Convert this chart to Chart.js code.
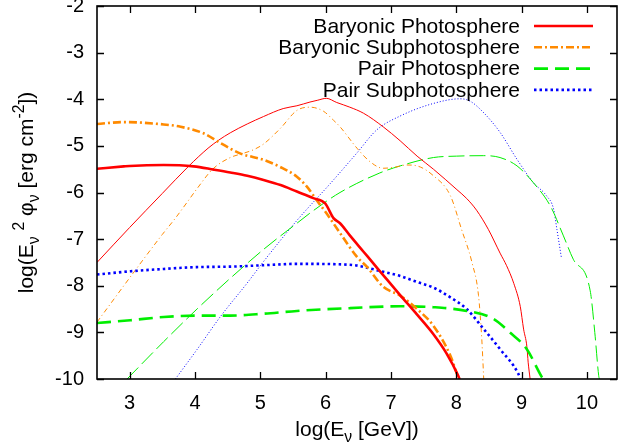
<!DOCTYPE html>
<html>
<head>
<meta charset="utf-8">
<script src="https://cdn.jsdelivr.net/npm/chart.js@4.4.0/dist/chart.umd.min.js"></script>
<style>
  html, body { margin: 0; padding: 0; background: #fff; }
  #wrap { width: 618px; height: 445px; position: relative; }
</style>
</head>
<body>
<div id="wrap"><canvas id="c"></canvas></div>
<script>
// tick values
const xTicks = [3, 4, 5, 6, 7, 8, 9, 10];
const yTicks = [-10, -9, -8, -7, -6, -5, -4, -3, -2];

// legend labels
const seriesNames = ['Baryonic Photosphere', 'Baryonic Subphotosphere', 'Pair Photosphere', 'Pair Subphotosphere'];

// Baryonic photosphere (thick / thin)
const bpThickX = [2.5, 2.91, 3.0, 3.52, 3.98, 4.29, 4.54, 4.8, 5.05, 5.31, 5.56, 5.81, 5.99, 6.12, 6.22, 6.37, 6.58, 6.73, 6.91, 7.14, 7.40, 7.65, 7.85, 8.03, 8.05];
const bpThickY = [-5.49, -5.44, -5.43, -5.41, -5.44, -5.51, -5.57, -5.64, -5.73, -5.84, -5.98, -6.12, -6.23, -6.55, -6.66, -6.92, -7.27, -7.52, -7.82, -8.2, -8.62, -9.04, -9.45, -9.93, -10.0];
const bpThinX = [2.5, 3.0, 3.5, 3.9, 4.2, 4.36, 4.54, 4.8, 5.05, 5.35, 5.56, 5.76, 5.88, 6.01, 6.17, 6.37, 6.58, 6.88, 7.14, 7.40, 7.65, 8.01, 8.16, 8.31, 8.49, 8.67, 8.77, 8.88, 8.98, 9.03, 9.08, 9.10, 9.13];
const bpThinY = [-7.5, -6.75, -6.02, -5.44, -5.05, -4.88, -4.72, -4.53, -4.37, -4.2, -4.14, -4.06, -4.02, -3.98, -4.07, -4.17, -4.30, -4.59, -4.89, -5.22, -5.5, -5.94, -6.13, -6.38, -6.79, -7.30, -7.57, -7.95, -8.45, -8.93, -9.3, -9.64, -10];

// Baryonic subphotosphere
const bsThickX = [2.5, 2.91, 3.52, 3.78, 4.13, 4.39, 4.69, 5.05, 5.30, 5.56, 5.71, 5.86, 6.01, 6.22, 6.48, 6.63, 6.88, 7.14, 7.40, 7.65, 7.91, 8.03, 8.05];
const bsThickY = [-4.53, -4.49, -4.54, -4.59, -4.73, -4.94, -5.16, -5.30, -5.45, -5.66, -5.87, -6.16, -6.44, -6.87, -7.38, -7.59, -8.02, -8.21, -8.5, -8.86, -9.5, -9.96, -10];
const bsThinX = [2.5, 3.09, 3.5, 3.70, 3.90, 4.03, 4.27, 4.54, 4.74, 4.9, 5.05, 5.31, 5.56, 5.76, 5.97, 6.12, 6.22, 6.48, 6.68, 6.88, 7.05, 7.24, 7.40, 7.65, 7.91, 8.08, 8.24, 8.34, 8.39, 8.42];
const bsThinY = [-8.78, -7.66, -6.9, -6.55, -6.17, -5.92, -5.5, -5.25, -5.16, -5.08, -4.96, -4.62, -4.24, -4.17, -4.26, -4.45, -4.59, -5.05, -5.34, -5.48, -5.46, -5.41, -5.43, -5.64, -6.07, -6.79, -7.5, -8.21, -9.14, -10];

// Pair photosphere
const ppThickX = [2.5, 3.01, 3.52, 4.03, 4.54, 5.05, 5.56, 6.37, 7.14, 7.65, 8.16, 8.57, 8.82, 9.08, 9.31, 9.33];
const ppThickY = [-8.8, -8.74, -8.67, -8.64, -8.64, -8.6, -8.54, -8.48, -8.44, -8.46, -8.54, -8.71, -9.0, -9.36, -9.96, -10];
const ppThinX = [2.96, 3.52, 4.03, 4.54, 5.05, 5.30, 5.56, 5.81, 6.22, 6.83, 7.14, 7.65, 8.0, 8.42, 8.67, 8.93, 9.18, 9.44, 9.64, 9.79, 10.05, 10.12, 10.18, 10.19];
const ppThinY = [-10, -9.2, -8.5, -7.84, -7.22, -6.94, -6.66, -6.39, -6.0, -5.58, -5.43, -5.25, -5.22, -5.21, -5.25, -5.43, -5.79, -6.29, -6.93, -7.43, -8.11, -9.0, -9.93, -10];

// Pair subphotosphere
const psThickX = [2.5, 3.01, 3.52, 4.03, 4.54, 5.05, 5.56, 6.37, 6.88, 7.14, 7.40, 7.65, 7.91, 8.16, 8.42, 8.67, 8.95, 8.98];
const psThickY = [-7.76, -7.69, -7.64, -7.60, -7.59, -7.56, -7.53, -7.55, -7.70, -7.79, -7.92, -8.04, -8.25, -8.5, -8.93, -9.36, -9.89, -10];
const psThinX = [3.70, 4.03, 4.39, 4.80, 5.05, 5.56, 6.07, 6.48, 6.78, 7.14, 7.65, 8.06, 8.21, 8.42, 8.67, 8.93, 9.18, 9.38, 9.49, 9.54, 9.61];
const psThinY = [-10, -9.37, -8.66, -7.94, -7.48, -6.6, -5.81, -5.15, -4.66, -4.36, -4.09, -3.99, -4.04, -4.29, -4.71, -5.29, -5.79, -6.07, -6.36, -6.79, -7.41];

const RED = '#ff0000', ORANGE = '#ff8a00', GREEN = '#00ee00', BLUE = '#0000ff';
const FONT = '"Liberation Sans", Arial, sans-serif';

function pts(xs, ys) {
  return xs.map((x, i) => ({ x: x, y: ys[i] }));
}

function mk(label, xs, ys, color, width, dash) {
  return {
    label: label,
    data: pts(xs, ys),
    borderColor: color,
    backgroundColor: color,
    borderWidth: width,
    borderDash: dash,
    borderCapStyle: 'butt',
    pointRadius: 0,
    showLine: true,
    fill: false,
    cubicInterpolationMode: 'monotone'
  };
}

const datasets = [
  mk(seriesNames[0], bpThickX, bpThickY, RED, 2.6, []),
  mk(seriesNames[1], bsThickX, bsThickY, ORANGE, 2.6, [8, 3, 2, 3]),
  mk(seriesNames[2], ppThickX, ppThickY, GREEN, 2.6, [14, 7]),
  mk(seriesNames[3], psThickX, psThickY, BLUE, 2.6, [2.5, 3]),
  mk('', bpThinX, bpThinY, RED, 1, []),
  mk('', bsThinX, bsThinY, ORANGE, 1, [5, 3, 1, 3]),
  mk('', ppThinX, ppThinY, GREEN, 1, [16, 5]),
  mk('', psThinX, psThinY, BLUE, 1, [1, 2])
];

// draw a string made of normal / sub / sup parts, centred on (0,0) at baseline
function richWidth(ctx, parts, size) {
  let w = 0;
  parts.forEach(p => {
    ctx.font = (p.s ? size * 0.75 : size) + 'px ' + FONT;
    w += ctx.measureText(p.t).width;
  });
  return w;
}
function drawRich(ctx, parts, size) {
  let x = -richWidth(ctx, parts, size) / 2;
  parts.forEach(p => {
    ctx.font = (p.s ? size * 0.75 : size) + 'px ' + FONT;
    let dy = 0;
    if (p.s === 'sub') dy = size * 0.3;
    if (p.s === 'sup') dy = -size * 0.45;
    ctx.fillText(p.t, x, dy);
    x += ctx.measureText(p.t).width;
  });
}

const xTitle = [{ t: 'log(E' }, { t: 'ν', s: 'sub' }, { t: ' [GeV])' }];
const yTitle = [{ t: 'log(E' }, { t: 'ν', s: 'sub' }, { t: ' ' }, { t: '2', s: 'sup' }, { t: ' φ' }, { t: 'ν', s: 'sub' }, { t: ' [erg cm' }, { t: '-2', s: 'sup' }, { t: '])' }];

const framePlugin = {
  id: 'frame',
  afterDatasetsDraw(chart) {
    const ctx = chart.ctx, a = chart.chartArea;
    const xs = chart.scales.x, ys = chart.scales.y;
    ctx.save();
    ctx.strokeStyle = '#000';
    ctx.lineWidth = 1.6;
    ctx.strokeRect(a.left, a.top, a.right - a.left, a.bottom - a.top);
    ctx.lineWidth = 1.3;
    ctx.beginPath();
    xTicks.forEach(v => {
      const px = Math.round(xs.getPixelForValue(v)) + 0.5;
      ctx.moveTo(px, a.bottom); ctx.lineTo(px, a.bottom - 7);
      ctx.moveTo(px, a.top); ctx.lineTo(px, a.top + 7);
    });
    yTicks.forEach(v => {
      const py = Math.round(ys.getPixelForValue(v)) + 0.5;
      ctx.moveTo(a.left, py); ctx.lineTo(a.left + 7, py);
      ctx.moveTo(a.right, py); ctx.lineTo(a.right - 7, py);
    });
    ctx.stroke();
    ctx.restore();
  },
  afterDraw(chart) {
    const ctx = chart.ctx, a = chart.chartArea;
    ctx.save();
    ctx.fillStyle = '#000';
    // legend
    ctx.textAlign = 'right';
    ctx.textBaseline = 'middle';
    ctx.font = '21px ' + FONT;
    seriesNames.forEach((name, i) => {
      const ds = chart.data.datasets[i];
      const y = 26 + i * 21.3;
      ctx.fillStyle = '#000';
      ctx.fillText(name, 520, y + 1);
      ctx.strokeStyle = ds.borderColor;
      ctx.lineWidth = ds.borderWidth;
      ctx.setLineDash(ds.borderDash);
      ctx.beginPath();
      ctx.moveTo(534, y); ctx.lineTo(593, y);
      ctx.stroke();
    });
    ctx.setLineDash([]);
    // axis titles
    ctx.textAlign = 'left';
    ctx.textBaseline = 'alphabetic';
    ctx.fillStyle = '#000';
    ctx.save();
    ctx.translate((a.left + a.right) / 2, 436);
    drawRich(ctx, xTitle, 21);
    ctx.restore();
    ctx.save();
    ctx.translate(33, (a.top + a.bottom) / 2);
    ctx.rotate(-Math.PI / 2);
    drawRich(ctx, yTitle, 21);
    ctx.restore();
    ctx.restore();
  }
};

new Chart(document.getElementById('c').getContext('2d'), {
  type: 'scatter',
  data: { datasets: datasets },
  options: {
    responsive: true,
    maintainAspectRatio: false,
    animation: false,
    devicePixelRatio: 1,
    layout: { padding: { top: 6, right: 1, bottom: 0, left: 0 } },
    plugins: { legend: { display: false }, tooltip: { enabled: false } },
    scales: {
      x: {
        type: 'linear', min: 2.5, max: 10.46,
        grid: { display: false, drawTicks: false },
        border: { display: false },
        ticks: { padding: 12, color: '#000', font: { family: FONT, size: 20 } },
        afterBuildTicks(s) { s.ticks = xTicks.map(v => ({ value: v })); },
        afterFit(s) { s.height = 66; s.paddingLeft = 0; s.paddingRight = 0; }
      },
      y: {
        type: 'linear', min: -10, max: -2,
        grid: { display: false, drawTicks: false },
        border: { display: false },
        ticks: { padding: 13, color: '#000', font: { family: FONT, size: 20 } },
        afterBuildTicks(s) { s.ticks = yTicks.map(v => ({ value: v })); },
        afterFit(s) { s.width = 97; s.paddingTop = 0; s.paddingBottom = 0; }
      }
    }
  },
  plugins: [framePlugin]
});
</script>
</body>
</html>
